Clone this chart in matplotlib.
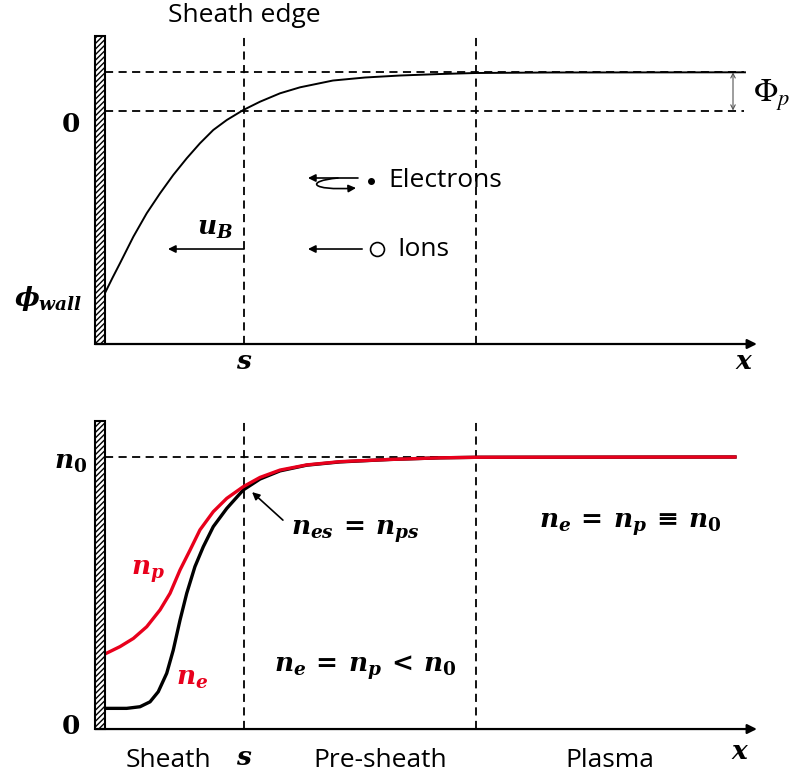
import matplotlib
matplotlib.use("Agg")
import matplotlib.pyplot as plt
from matplotlib.patches import Rectangle, FancyArrowPatch
from matplotlib.path import Path

plt.rcParams['mathtext.fontset'] = 'custom'
plt.rcParams['mathtext.rm'] = 'DejaVu Serif:bold'
plt.rcParams['mathtext.it'] = 'DejaVu Serif:italic:bold'
plt.rcParams['mathtext.bf'] = 'DejaVu Serif:bold'
plt.rcParams['hatch.linewidth'] = 1.0

SANS = 'Open Sans'

# ---------------- data ----------------
# positions in units of the sheath thickness s (wall at 0, sheath edge at 1)
x_sheath_edge = 1.0
x_presheath_edge = 2.669
x_axis_end = 4.69

# potential (normalized: 0 at sheath edge, 1 = plasma potential Phi_p)
phi_x = [0.000, 0.054, 0.108, 0.204, 0.300, 0.396, 0.491, 0.588, 0.683, 0.779, 0.876,
         0.995, 1.115, 1.259, 1.403, 1.640, 1.871, 2.122, 2.410, 2.669, 3.201, 4.604]
phi_y = [-4.777, -4.380, -3.998, -3.304, -2.691, -2.168, -1.688, -1.251, -0.859, -0.510,
         -0.249, 0.013, 0.230, 0.450, 0.607, 0.785, 0.864, 0.916, 0.955, 0.982, 0.995, 1.000]
phi_plasma = 1.0

# densities normalized to n0
np_x = [0.000, 0.108, 0.204, 0.300, 0.396, 0.468, 0.540, 0.612, 0.683, 0.779,
        0.876, 0.995, 1.115, 1.259, 1.451, 1.691, 2.050, 2.410, 2.683, 4.532]
np_y = [0.276, 0.303, 0.333, 0.376, 0.438, 0.499, 0.585, 0.658, 0.732, 0.799,
        0.848, 0.891, 0.925, 0.952, 0.971, 0.983, 0.991, 0.997, 0.999, 1.000]
ne_x = [0.000, 0.156, 0.252, 0.324, 0.383, 0.444, 0.491, 0.540, 0.588, 0.647,
        0.707, 0.779, 0.876, 0.995, 1.115, 1.259, 1.451, 1.691, 2.050, 2.410,
        2.683, 4.532]
ne_y = [0.076, 0.076, 0.082, 0.100, 0.137, 0.205, 0.290, 0.401, 0.499, 0.597,
        0.670, 0.744, 0.811, 0.879, 0.919, 0.949, 0.970, 0.982, 0.991, 0.997,
        0.999, 1.000]
n0 = 1.0

region_labels = ['Sheath', 'Pre-sheath', 'Plasma']
region_x = [0.453, 1.98, 3.63]

# ---------------- figure ----------------
fig = plt.figure(figsize=(7.91, 7.78), dpi=100)
XLIM = (-105 / 139, 686 / 139)
DASH = (0, (4.5, 3.0))

ax1 = fig.add_axes([0, 0.5, 1, 0.5])
ax1.set_xlim(*XLIM)
ax1.set_ylim(-7.291, 2.893)
ax1.axis('off')

ax2 = fig.add_axes([0, 0, 1, 0.5])
ax2.set_xlim(*XLIM)
ax2.set_ylim(-0.180, 1.25)
ax2.axis('off')

wall_w = 0.072
MATH = 19
TXT = 19


def draw_frame(ax, ybot, ytop):
    ax.add_patch(Rectangle((-wall_w, ybot), wall_w, ytop - ybot, facecolor='white',
                           edgecolor='black', hatch='//////', lw=1.5, zorder=3))
    ax.annotate('', xy=(x_axis_end, ybot), xytext=(-wall_w, ybot),
                arrowprops=dict(arrowstyle='-|>', color='black', lw=1.6,
                                mutation_scale=14, shrinkA=0, shrinkB=0), zorder=4)
    for xv in (x_sheath_edge, x_presheath_edge):
        ax.plot([xv, xv], [ybot, ytop], color='black', lw=1.3, ls=DASH, zorder=1)


# ---------- top panel: potential ----------
top_bot, top_top = -6.113, 1.950
draw_frame(ax1, top_bot, top_top)
for yv in (0.0, phi_plasma):
    ax1.plot([0, 4.60], [yv, yv], color='black', lw=1.3, ls=DASH, zorder=1)
ax1.plot(phi_x, phi_y, color='black', lw=1.4, zorder=2)

ax1.annotate('', xy=(4.518, 0.0), xytext=(4.518, phi_plasma),
             arrowprops=dict(arrowstyle='<->', color='#555555', lw=0.8,
                             mutation_scale=8, shrinkA=0, shrinkB=0))
ax1.text(4.665, 0.40, r'$\Phi_p$', math_fontfamily='stix', fontsize=23,
         ha='left', va='center')
ax1.text(x_sheath_edge, 2.5, 'Sheath edge', family=SANS, fontsize=TXT,
         ha='center', va='center')
ax1.text(-0.25, -0.38, r'$\mathbf{0}$', fontsize=MATH, ha='center', va='center')
ax1.text(-0.41, -4.91, r'$\phi_{wall}$', fontsize=MATH, ha='center', va='center')
ax1.text(x_sheath_edge, -6.584, r'$s$', fontsize=MATH, ha='center', va='center')
ax1.text(4.60, -6.584, r'$x$', fontsize=MATH, ha='center', va='center')

# Bohm velocity arrow
yb = -3.626
ax1.annotate('', xy=(0.453, yb), xytext=(x_sheath_edge, yb),
             arrowprops=dict(arrowstyle='-|>', color='black', lw=1.2,
                             mutation_scale=11, shrinkA=0, shrinkB=0))
ax1.text(0.79, -3.076, r'$u_B$', fontsize=MATH, ha='center', va='center')

# ions
ax1.annotate('', xy=(1.46, yb), xytext=(1.85, yb),
             arrowprops=dict(arrowstyle='-|>', color='black', lw=1.2,
                             mutation_scale=11, shrinkA=0, shrinkB=0))
ax1.plot([1.957], [yb], marker='o', ms=10, mfc='white', mec='black', mew=1.2)
ax1.text(2.10, yb, 'Ions', family=SANS, fontsize=TXT, ha='left', va='center')

# electrons
ye = -1.767
ax1.annotate('', xy=(1.46, ye), xytext=(1.82, ye),
             arrowprops=dict(arrowstyle='-|>', color='black', lw=1.2,
                             mutation_scale=11, shrinkA=0, shrinkB=0))
loop = Path([(1.676, -1.767), (1.439, -1.845), (1.475, -2.107), (1.806, -2.029)],
            [Path.MOVETO, Path.CURVE4, Path.CURVE4, Path.CURVE4])
ax1.add_patch(FancyArrowPatch(path=loop, arrowstyle='-|>', color='black', lw=1.2,
                              mutation_scale=11))
ax1.plot([1.914], [-1.845], marker='o', ms=4, color='black')
ax1.text(2.036, -1.845, 'Electrons', family=SANS, fontsize=TXT, ha='left', va='center')

# ---------- bottom panel: densities ----------
bot_top = 1.132
draw_frame(ax2, 0.0, bot_top)
ax2.plot([0, 4.57], [n0, n0], color='black', lw=1.3, ls=DASH, zorder=1)
ax2.plot(ne_x, ne_y, color='black', lw=2.4, zorder=2)
ax2.plot(np_x, np_y, color='#e8001c', lw=2.4, zorder=2)

ax2.text(-0.25, 0.982, r'$n_0$', fontsize=MATH, ha='center', va='center')
ax2.text(-0.25, 0.007, r'$\mathbf{0}$', fontsize=MATH, ha='center', va='center')
ax2.text(0.31, 0.577, r'$n_p$', fontsize=MATH, color='#e8001c', ha='center', va='center')
ax2.text(0.626, 0.1875, r'$n_e$', fontsize=MATH, color='#e8001c', ha='center', va='center')
ax2.annotate('', xy=(1.058, 0.871), xytext=(1.28, 0.768),
             arrowprops=dict(arrowstyle='-|>', color='black', lw=1.2,
                             mutation_scale=11, shrinkA=0, shrinkB=0))
ax2.text(1.80, 0.724, r'$n_{es}\,=\,n_{ps}$', fontsize=MATH, ha='center', va='center')
ax2.text(1.87, 0.224, r'$n_e\,=\,n_p\,<\,n_0$', fontsize=MATH, ha='center', va='center')
ax2.text(3.78, 0.75, r'$n_e\,=\,n_p\,\equiv\,n_0$', fontsize=MATH, ha='center', va='center')
for lab, xv in zip(region_labels, region_x):
    ax2.text(xv, -0.114, lab, family=SANS, fontsize=TXT, ha='center', va='center')
ax2.text(x_sheath_edge, -0.107, r'$s$', fontsize=MATH, ha='center', va='center')
ax2.text(4.57, -0.085, r'$x$', fontsize=MATH, ha='center', va='center')

fig.savefig('out.png', dpi=100, facecolor='white')
